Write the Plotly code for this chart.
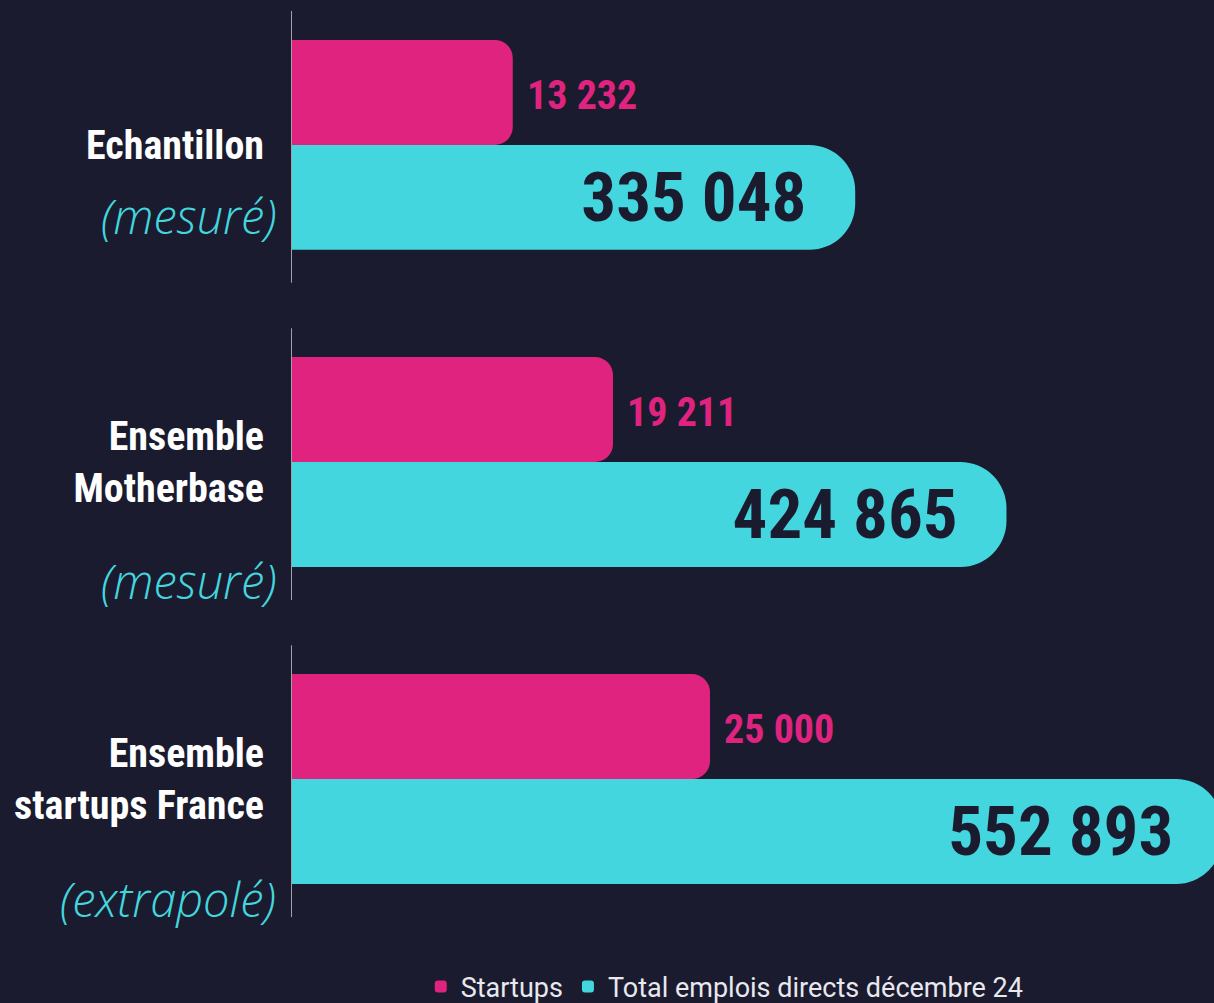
import plotly.graph_objects as go

# donnees
groupes = ["Echantillon", "Ensemble<br>Motherbase", "Ensemble<br>startups France"]
statut = ["(mesuré)", "(mesuré)", "(extrapolé)"]
startups = [13232, 19211, 25000]
emplois = [335048, 424865, 552893]

ROSE = "#e0237f"
CYAN = "#44d6de"
FOND = "#1b1b2f"
COND = "Roboto Condensed, Open Sans Condensed, sans-serif"

bw = 0.331  # epaisseur d'une barre (unites de categorie)


def fmt(v):
    return f"{v:,}".replace(",", " ")


fig = go.Figure()

fig.add_trace(go.Bar(
    name="Startups", x=startups, y=groupes, orientation="h",
    xaxis="x2", yaxis="y", width=bw, offset=-bw,
    marker=dict(color=ROSE, cornerradius=18, line=dict(width=0)),
    hoverinfo="x",
))
fig.add_trace(go.Bar(
    name="Total emplois directs décembre 24", x=emplois, y=groupes,
    orientation="h", xaxis="x", yaxis="y", width=bw, offset=0,
    marker=dict(color=CYAN, cornerradius=46, line=dict(width=0)),
    # espaces insecables pour decoller le texte du bout arrondi
    text=[fmt(v) + "\u00a0\u2009" for v in emplois], textposition="inside",
    insidetextanchor="end", constraintext="none",
    textfont=dict(family=COND, size=69, color=FOND, weight="bold"),
    hoverinfo="x",
))

annotations = []
# valeurs des startups, a droite des barres roses
for i, v in enumerate(startups):
    annotations.append(dict(
        x=v, xref="x2", y=i - bw / 2, yref="y", text=fmt(v),
        showarrow=False, xanchor="left", xshift=12, yshift=-3,
        font=dict(family=COND, size=40, color=ROSE, weight="bold"),
    ))
# (mesuré) / (extrapolé)
decal = [71, 119, 120]
for i, s in enumerate(statut):
    annotations.append(dict(
        x=0, xref="paper", y=i, yref="y", text=s, showarrow=False,
        xanchor="right", xshift=-13, yshift=-decal[i],
        font=dict(family="Open Sans", size=47, color=CYAN, style="italic", weight=300),
    ))

# axe vertical coupe par groupe
shapes = []
for i in range(len(groupes)):
    shapes.append(dict(
        type="line", xref="x", yref="y", x0=0, x1=0,
        y0=i - 0.422, y1=i + 0.435,
        line=dict(color="#a0a0a8", width=2),
    ))

fig.update_layout(
    width=1214, height=1003,
    paper_bgcolor=FOND, plot_bgcolor=FOND,
    margin=dict(l=291, r=0, t=0, b=60),
    showlegend=True,
    barmode="overlay",
    xaxis=dict(range=[0, 548100], visible=False, fixedrange=True),
    xaxis2=dict(range=[0, 55070], overlaying="x", visible=False, fixedrange=True),
    yaxis=dict(
        type="category", range=[2.517, -0.457], showgrid=False,
        zeroline=False, showline=False, ticks="", ticklabelstandoff=26,
        tickfont=dict(family=COND, size=40, color="white", weight="bold"),
        fixedrange=True,
    ),
    legend=dict(
        orientation="h", xref="container", x=0.597, xanchor="center",
        yref="container", y=0.016, yanchor="middle",
        font=dict(family="Roboto", size=27, color="#e8e8ee"),
        itemclick=False, bgcolor="rgba(0,0,0,0)",
    ),
    annotations=annotations,
    shapes=shapes,
)

fig.write_html("out.html", config={"displayModeBar": False},
               post_script="document.body.style.margin='0';")
